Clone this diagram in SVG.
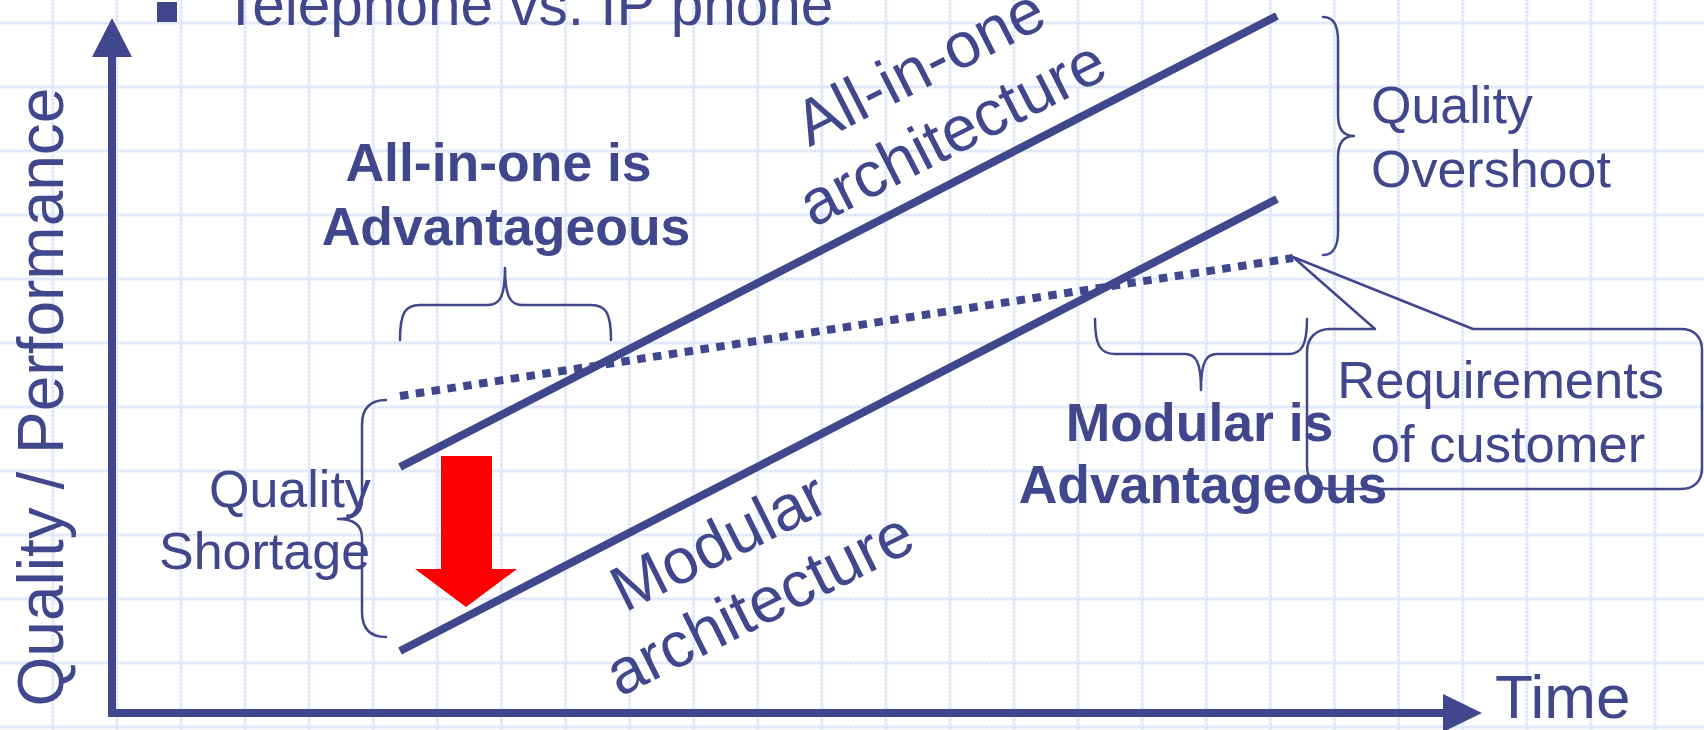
<svg xmlns="http://www.w3.org/2000/svg" width="1704" height="730" viewBox="0 0 1704 730">
  <defs>
    <!-- light blue squared paper -->
    <pattern id="paper" patternUnits="userSpaceOnUse" x="20.9" y="-9" width="64.08" height="64">
      <line x1="0" y1="32" x2="64.08" y2="32" stroke="#eaf0fd" stroke-width="3.5"/>
      <line x1="32" y1="0" x2="32" y2="64" stroke="#eaf0fd" stroke-width="3.5"/>
      <line x1="0" y1="32" x2="64.08" y2="32" stroke="#d4def8" stroke-width="1.3" stroke-dasharray="2 2"/>
      <line x1="32" y1="0" x2="32" y2="64" stroke="#d4def8" stroke-width="1.3" stroke-dasharray="2 2"/>
    </pattern>
  </defs>
  <style>
    .ink { fill: #41478c; }
    .txt { fill: #41478c; font-family: "Liberation Sans", Arial, sans-serif; }
    .bold { font-weight: bold; }
    .brace { fill: none; stroke: #41478c; stroke-width: 2.5; stroke-linecap: round; stroke-linejoin: round; }
    .trend { fill: none; stroke: #41478c; stroke-width: 8; }
    .axis { fill: none; stroke: #41478c; stroke-width: 8; }
  </style>

  <rect x="0" y="0" width="1704" height="730" fill="#ffffff"/>
  <rect x="0" y="0" width="1704" height="730" fill="url(#paper)"/>

  <!-- slide bullet line at the top -->
  <g id="title">
    <rect class="ink" x="157" y="2" width="20" height="20"/>
    <text class="txt" x="223" y="25" font-size="58.5">Telephone vs. IP phone</text>
  </g>

  <!-- axes -->
  <g id="axes">
    <line class="axis" x1="112" y1="55" x2="112" y2="717"/>
    <line class="axis" x1="108" y1="713" x2="1446" y2="713"/>
    <polygon class="ink" points="112,18 92,57 132,57"/>
    <polygon class="ink" points="1482,713 1443,694 1443,732"/>
  </g>
  <g id="y-label">
    <text class="txt" font-size="64" text-anchor="middle" transform="translate(63,397) rotate(-90)">Quality / Performance</text>
  </g>
  <g id="x-label">
    <text class="txt" x="1495" y="718" font-size="62">Time</text>
  </g>

  <!-- trend lines -->
  <g id="connectors">
    <line class="trend" x1="400" y1="467" x2="1277" y2="16"/>
    <line class="trend" x1="400" y1="651" x2="1277" y2="199"/>
    <line class="trend" x1="400" y1="396" x2="1293" y2="258" stroke-dasharray="8.5 7.5"/>
  </g>

  <g id="all-in-one-line-label">
    <text class="txt" font-size="64" text-anchor="middle" transform="translate(962,152) rotate(-27)">
      <tspan x="10" y="-73.5">All-in-one</tspan>
      <tspan x="0" y="0">architecture</tspan>
    </text>
  </g>
  <g id="modular-line-label">
    <text class="txt" font-size="64" text-anchor="middle" transform="translate(769,623) rotate(-26.5)">
      <tspan x="0" y="-73.5">Modular</tspan>
      <tspan x="0" y="0">architecture</tspan>
    </text>
  </g>

  <!-- all-in-one advantage region -->
  <g id="all-in-one-advantage">
    <path class="brace" d="M400 340 C400 313 405 305 420 305 L488 305 C500 305 505 296 505 268 C505 296 510 305 522 305 L591 305 C606 305 611 313 611 340"/>
    <text class="txt bold" font-size="53.5" text-anchor="middle">
      <tspan x="506" y="181">All-in-one is</tspan>
      <tspan x="506" y="245">Advantageous</tspan>
    </text>
  </g>

  <!-- quality shortage -->
  <g id="quality-shortage">
    <path class="brace" d="M386 400 C368 400 362 410 362 425 L362 500 C362 512 355 519 338 519 C355 519 362 526 362 538 L362 612 C362 627 368 637 386 637"/>
    <text class="txt" font-size="52">
      <tspan x="209" y="507">Quality</tspan>
      <tspan x="159" y="569">Shortage</tspan>
    </text>
    <polygon fill="#ff0000" points="441,456 492,456 492,569 517,569 466,607 415,569 441,569"/>
  </g>

  <!-- quality overshoot -->
  <g id="quality-overshoot">
    <path class="brace" d="M1323 17 C1333 17 1338 25 1338 40 L1338 115 C1338 128 1343 136 1354 136 C1343 136 1338 144 1338 157 L1338 232 C1338 246 1333 255 1323 255"/>
    <text class="txt" font-size="52">
      <tspan x="1371" y="123">Quality</tspan>
      <tspan x="1371" y="187">Overshoot</tspan>
    </text>
  </g>

  <!-- modular advantage region -->
  <g id="modular-advantage">
    <path class="brace" d="M1095 319 C1095 345 1100 354 1115 354 L1185 354 C1196 354 1201 362 1201 390 C1201 362 1206 354 1217 354 L1288 354 C1302 354 1307 345 1307 319"/>
  </g>

  <!-- customer requirement callout -->
  <g id="requirements-callout">
    <path class="brace" d="M1330 329 L1375 329 L1293 257 L1473 329 L1681 329 C1694 329 1702 337 1702 350 L1702 468 C1702 481 1694 489 1681 489 L1330 489 C1316 489 1307 480 1307 466 L1307 352 C1307 338 1316 329 1330 329 Z"/>
    <text class="txt" font-size="52.5" text-anchor="middle">
      <tspan x="1508" y="398">Requirements</tspan>
      <tspan x="1508" y="462">of customer</tspan>
    </text>
  </g>

  <g id="modular-advantage-label">
    <text class="txt bold" font-size="53.5" text-anchor="middle">
      <tspan x="1207" y="441">Modular is</tspan>
      <tspan x="1203" y="503">Advantageous</tspan>
    </text>
  </g>
</svg>
